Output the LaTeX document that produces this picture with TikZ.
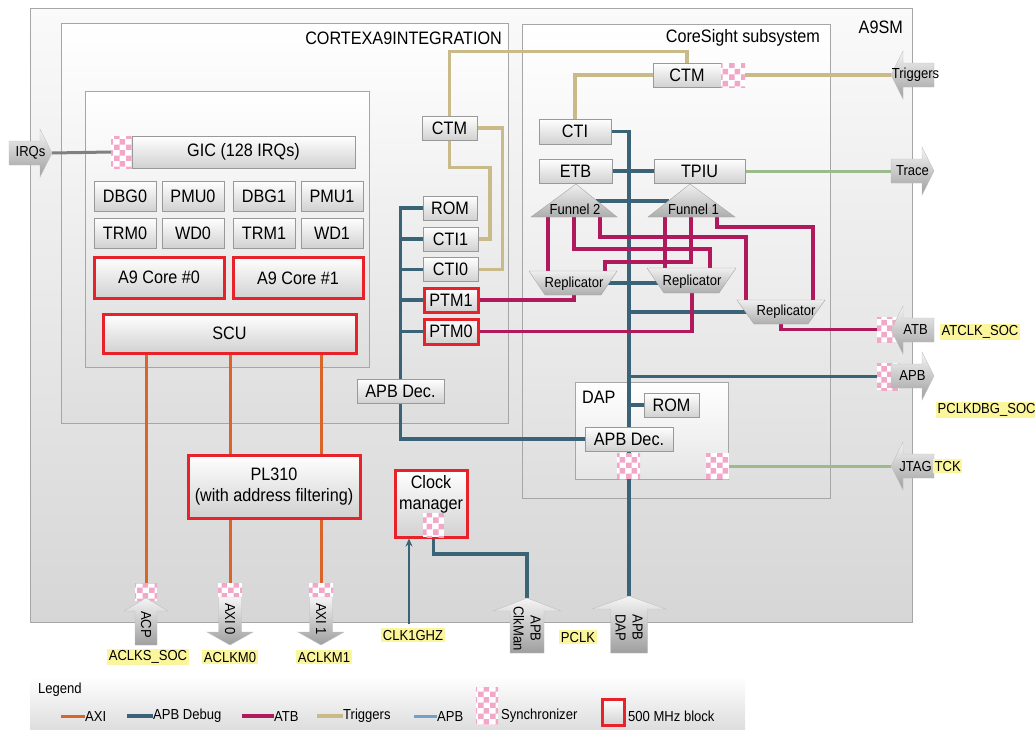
\documentclass[tikz,border=0pt]{standalone}
\usepackage{fontspec}
\setmainfont{Liberation Sans}[FakeStretch=0.9]
\usetikzlibrary{arrows.meta,positioning,calc,patterns}

\definecolor{axicol}{HTML}{D9652B}
\definecolor{apbdcol}{HTML}{3B6378}
\definecolor{atbcol}{HTML}{B0195B}
\definecolor{trigcol}{HTML}{C9BA8A}
\definecolor{apbcol}{HTML}{72A0C8}
\definecolor{tracecol}{HTML}{9DBA8C}
\definecolor{blockred}{HTML}{E8222A}
\definecolor{syncpink}{HTML}{F2A7C8}
\definecolor{sigyellow}{HTML}{FBF59C}

\pgfdeclarelayer{back}
\pgfdeclarelayer{wires}
\pgfsetlayers{back,wires,main}

\tikzset{
  bigfont/.style={font=\fontsize{18}{21}\selectfont},
  smallfont/.style={font=\fontsize{14.5}{17}\selectfont},
  title/.style={bigfont, inner sep=0pt},
  blk/.style={draw=black!40, line width=0.8pt, top color=white, bottom color=black!18,
    inner sep=0pt, align=center, bigfont},
  redblk/.style={blk, draw=blockred, line width=3pt},
  syncbox/.style={preaction={fill=white}, pattern=checkerboard, pattern color=syncpink, inner sep=0pt},
  container/.style={draw=black!35, line width=0.8pt, top color=white, bottom color=black!13},
  portshape/.style={draw=black!25, top color=black!4, bottom color=black!38},
  porttext/.style={smallfont, inner sep=0pt, align=center},
  cswedge/.style={draw=black!35, top color=black!6, bottom color=black!32},
  cslabel/.style={smallfont, inner sep=0pt},
  siglabel/.style={fill=sigyellow, inner sep=1.5pt, smallfont},
  axi/.style={draw=axicol, line width=3pt},
  apbd/.style={draw=apbdcol, line width=3.6pt},
  atb/.style={draw=atbcol, line width=3.2pt},
  trig/.style={draw=trigcol, line width=3.2pt},
  apb/.style={draw=apbcol, line width=3pt},
  trc/.style={draw=tracecol, line width=3pt},
}

% ports: name, tail/tip x, y, text
\newcommand{\portright}[5]{%
  \shade[portshape] (#2,#4-12) -- (#3-12,#4-12) -- (#3-12,#4-24) -- (#3,#4)
    -- (#3-12,#4+24) -- (#3-12,#4+12) -- (#2,#4+12) -- cycle;
  \coordinate (#1-tail) at (#2,#4);
  \coordinate (#1-tip) at (#3,#4);
  \node[porttext] (#1) at ({(#2+#3)/2},#4) {#5};}
\newcommand{\portleft}[5]{%
  \shade[portshape] (#2,#4) -- (#2+12,#4-24) -- (#2+12,#4-12) -- (#3,#4-12)
    -- (#3,#4+12) -- (#2+12,#4+12) -- (#2+12,#4+24) -- cycle;
  \coordinate (#1-tip) at (#2,#4);
  \coordinate (#1-tail) at (#3,#4);
  \node[porttext] (#1) at ({(#2+#3)/2+3},#4) {#5};}
% vertical ports: name, x, first y, second y, half width, text
\newcommand{\portup}[6]{%
  \shade[portshape] (#2,#3) -- (#2+2*#5,#3+13) -- (#2+#5,#3+13) -- (#2+#5,#4)
    -- (#2-#5,#4) -- (#2-#5,#3+13) -- (#2-2*#5,#3+13) -- cycle;
  \coordinate (#1-tip) at (#2,#3);
  \node[porttext, rotate=-90] (#1) at (#2,{(#3+#4)/2+3}) {#6};}
\newcommand{\portdown}[6]{%
  \shade[portshape] (#2,#4) -- (#2+2*#5,#4-13) -- (#2+#5,#4-13) -- (#2+#5,#3)
    -- (#2-#5,#3) -- (#2-#5,#4-13) -- (#2-2*#5,#4-13) -- cycle;
  \coordinate (#1-tail) at (#2,#3);
  \node[porttext, rotate=-90] (#1) at (#2,{(#3+#4)/2-2}) {#6};}

\begin{document}
\begin{tikzpicture}[x=1pt,y=-1pt]
	\useasboundingbox (0,0) rectangle (1035,729);
	
	% frames
	\begin{pgfonlayer}{back}
		\shade[container, top color=black!2, bottom color=black!16] (30,8) rectangle (912,622);
		\shade[container] (61,23) rectangle (508,423);
		\shade[container] (85,91) rectangle (369,367);
		\shade[container] (522,24) rectangle (830,498);
		\shade[container, bottom color=black!10] (575,382) rectangle (728,479);
		\shade[top color=white, bottom color=black!13] (30,676) rectangle (745,729);
	\end{pgfonlayer}
	
	\node[title, anchor=east] (a9sm) at (903,27) {A9SM};
	\node[title, anchor=east] (cortexlbl) at (502,38) {CORTEXA9INTEGRATION};
	\node[title, anchor=east] (cslbl) at (820,38) {CoreSight subsystem};
	\node[title, anchor=west] (daplbl) at (582,397) {DAP};
	
	% cluster
	\node[syncbox, minimum width=21pt, minimum height=32pt] (gicsync) at (121.5,152) {};
	\node[blk, minimum width=223pt, minimum height=32pt] (gic) at (243.5,152) {GIC (128 IRQs)};
	\node[blk, minimum width=62pt, minimum height=30pt] (dbg0) at (125,196) {DBG0};
	\node[blk, minimum width=62pt, minimum height=30pt] (pmu0) at (193,196) {PMU0};
	\node[blk, minimum width=62pt, minimum height=30pt] (dbg1) at (264,196) {DBG1};
	\node[blk, minimum width=62pt, minimum height=30pt] (pmu1) at (332,196) {PMU1};
	\node[blk, minimum width=62pt, minimum height=30pt] (trm0) at (125,233) {TRM0};
	\node[blk, minimum width=62pt, minimum height=30pt] (wd0) at (193,233) {WD0};
	\node[blk, minimum width=62pt, minimum height=30pt] (trm1) at (264,233) {TRM1};
	\node[blk, minimum width=62pt, minimum height=30pt] (wd1) at (332,233) {WD1};
	\node[redblk, minimum width=130pt, minimum height=41pt] (core0) at (159,277.5) {A9 Core \#0};
	\node[redblk, minimum width=130pt, minimum height=41pt] (core1) at (298,278) {A9 Core \#1};
	\node[redblk, minimum width=253pt, minimum height=39pt] (scu) at (229.5,333.5) {SCU};
	
	\node[redblk, minimum width=172pt, minimum height=63pt] (pl310) at (274,486.5) {PL310\\(with address filtering)};
	\node[redblk, minimum width=72pt, minimum height=67pt] (clkman) at (431,503.5) {};
	\node[title, align=center] (clktxt) at (431,494) {Clock\\manager};
	\node[syncbox, minimum width=21pt, minimum height=24pt] (csync) at (433.5,525) {};
	
	% debug blocks of the integration level
	\node[blk, minimum width=55pt, minimum height=24pt] (ctmA) at (449.5,128) {CTM};
	\node[blk, minimum width=54pt, minimum height=24pt] (rom) at (450,208) {ROM};
	\node[blk, minimum width=55pt, minimum height=24pt] (cti1) at (450.5,239) {CTI1};
	\node[blk, minimum width=55pt, minimum height=24pt] (cti0) at (450.5,269.5) {CTI0};
	\node[redblk, minimum width=54pt, minimum height=24pt] (ptm1) at (451,300) {PTM1};
	\node[redblk, minimum width=54pt, minimum height=25pt] (ptm0) at (451,331.5) {PTM0};
	\node[blk, minimum width=87pt, minimum height=24pt] (apbdec) at (400.5,391) {APB Dec.};
	
	% coresight
	\shade[cswedge] (531,217) -- (576,184) -- (617,217) -- cycle;
	\shade[cswedge] (648,217) -- (690,184) -- (735,217) -- cycle;
	\node[cslabel] (fun2) at (575,209) {Funnel 2};
	\node[cslabel] (fun1) at (693.5,209) {Funnel 1};
	\coordinate (f2-a) at (548,217);
	\coordinate (f2-b) at (574,217);
	\coordinate (f2-c) at (600,217);
	\coordinate (f1-a) at (665,217);
	\coordinate (f1-b) at (691,217);
	\coordinate (f1-c) at (717,217);
	\coordinate (f2-r) at (596,201);
	\coordinate (f1-l) at (669,201);
	
	\shade[cswedge] (529,271) -- (617,271) -- (601,295) -- (545,295) -- cycle;
	\shade[cswedge] (647,268) -- (736,268) -- (719,293) -- (664,293) -- cycle;
	\shade[cswedge] (737,300) -- (825,300) -- (808,324) -- (754,324) -- cycle;
	\node[cslabel] (rep1) at (574,284) {Replicator};
	\node[cslabel] (rep2) at (692,282) {Replicator};
	\node[cslabel] (rep3) at (786,312) {Replicator};
	\coordinate (rep1-in1) at (548,271);
	\coordinate (rep1-in2) at (605,271);
	\coordinate (rep1-b) at (574,295);
	\coordinate (rep1-r) at (606,283);
	\coordinate (rep2-in1) at (665,268);
	\coordinate (rep2-in2) at (710,268);
	\coordinate (rep2-b) at (692,293);
	\coordinate (rep2-l) at (658,283);
	\coordinate (rep3-in1) at (746,300);
	\coordinate (rep3-in2) at (813,300);
	\coordinate (rep3-b) at (781,324);
	\coordinate (rep3-l) at (749,312);
	
	\node[blk, minimum width=68pt, minimum height=24pt] (ctmB) at (687,75) {CTM};
	\node[syncbox, minimum width=24pt, minimum height=24pt] (ctmsync) at (733,75) {};
	\node[blk, minimum width=72pt, minimum height=25pt] (cti) at (575,131.5) {CTI};
	\node[blk, minimum width=73pt, minimum height=24pt] (etb) at (575.5,171) {ETB};
	\node[blk, minimum width=91pt, minimum height=24pt] (tpiu) at (699.5,171) {TPIU};
	
	\node[blk, minimum width=55pt, minimum height=24pt] (daprom) at (671.5,405) {ROM};
	\node[blk, minimum width=88pt, minimum height=24pt] (dapdec) at (629,439) {APB Dec.};
	\node[syncbox, minimum width=23pt, minimum height=26pt] (dsync1) at (628.5,466) {};
	\node[syncbox, minimum width=23pt, minimum height=26pt] (dsync2) at (717.5,466) {};
	
	% synchronizers at the edge
	\node[syncbox, minimum width=22pt, minimum height=25pt] (atbsync) at (888,329.5) {};
	\node[syncbox, minimum width=22pt, minimum height=27pt] (apbsync) at (888,376.5) {};
	\node[syncbox, minimum width=22pt, minimum height=17pt] (acpsync) at (146,592) {};
	\node[syncbox, minimum width=24pt, minimum height=14pt] (axi0sync) at (230,590) {};
	\node[syncbox, minimum width=24pt, minimum height=14pt] (axi1sync) at (321,590) {};
	
	% ports
	\portright{irqs}{9}{52}{153}{IRQs}
	\portleft{trigp}{891}{934}{75}{Triggers}
	\portright{trace}{891}{934}{171}{Trace}
	\portleft{atbp}{891}{934}{330}{ATB}
	\portright{apbp}{891}{934}{376}{APB}
	\portleft{jtag}{891}{934}{466}{JTAG}
	\portup{acp}{146}{598}{645}{11}{ACP}
	\portdown{axi0}{230}{597}{645}{11.5}{AXI 0}
	\portdown{axi1}{321}{597}{645}{11.5}{AXI 1}
	\portup{clkp}{527}{598}{653}{17}{APB\\ClkMan}
	\portup{dapp}{629}{596}{653}{18.5}{APB\\DAP}
	
	% clock names
	\node[siglabel] (aclks) at (148,657) {ACLKS\_SOC};
	\node[siglabel] (aclkm0) at (230,657) {ACLKM0};
	\node[siglabel] (aclkm1) at (324,657) {ACLKM1};
	\node[siglabel] (clk1ghz) at (413,635) {CLK1GHZ};
	\node[siglabel] (pclk) at (578,637) {PCLK};
	\node[siglabel] (atclk) at (980,332) {ATCLK\_SOC};
	\node[siglabel, anchor=west] (pclkdbg) at (936,410) {PCLKDBG\_SOC};
	\node[siglabel, anchor=west] (tck) at (933,466) {TCK};
	\coordinate (clkin) at (409,624);
	
	% wiring
	\begin{pgfonlayer}{wires}
		\draw[axi] (scu.south -| acpsync) -- (acpsync.north);
		\draw[axi] (scu.south -| axi0sync) -- (pl310.north -| axi0sync);
		\draw[axi] (scu.south -| axi1sync) -- (pl310.north -| axi1sync);
		\draw[axi] (pl310.south -| axi0sync) -- (axi0sync.north);
		\draw[axi] (pl310.south -| axi1sync) -- (axi1sync.north);
		
		\draw[black!50, line width=3pt] (irqs-tip) -- (gicsync.west);
		
		\draw[apbd] (rom.west) -- (rom.west -| apbdec) -- (apbdec.center |- dapdec.west) -- (dapdec.west);
		\foreach \n in {cti1,cti0,ptm1,ptm0}
			\draw[apbd] (\n.west) -- (\n.west -| apbdec);
		\draw[apbd] (cti.east) -| (dapp-tip);
		\draw[apbd] (etb.east) -- (tpiu.west);
		\draw[apbd] (f2-r) -- (f1-l);
		\draw[apbd] (rep1-r) -- (rep2-l);
		\draw[apbd] (rep3-l -| dapp-tip) -- (rep3-l);
		\draw[apbd] (apbsync.west -| dapp-tip) -- (apbsync.west);
		\draw[apbd] (daprom.west -| dapp-tip) -- (daprom.west);
		\draw[apbd] (csync.south) -- ++(0,17) -| (clkp-tip);
		
		\draw[atb] (ptm1.east) -| (rep1-b);
		\draw[atb] (ptm0.east) -| (rep2-b);
		\draw[atb] (f2-a) -- (rep1-in1);
		\draw[atb] (f2-b) -- ++(0,32) -| (rep2-in2);
		\draw[atb] (f2-c) -- ++(0,20) -| (rep3-in1);
		\draw[atb] (f1-a) -- (rep2-in1);
		\draw[atb] (f1-b) -- ++(0,45) -| (rep1-in2);
		\draw[atb] (f1-c) -- ++(0,10) -| (rep3-in2);
		\draw[atb] (rep3-b) |- (atbsync.west);
		
		\draw[trig] (ctmB.north) -- ++(0,-11) -| (ctmA.north);
		\draw[trig] (ctmA.east) -- ++(25,0) |- (cti0.east);
		\draw[trig] (ctmA.south) -- ++(0,27) -- ++(40.5,0) |- (cti1.east);
		\draw[trig] (ctmB.west) -| (cti.north);
		\draw[trig] (ctmsync.east) -- (trigp-tip);
		
		\draw[trc] (tpiu.east) -- (trace-tail);
		\draw[trc] (dsync2.east) -- (jtag-tip);
	\end{pgfonlayer}
	\draw[apbdcol, line width=1.6pt, -{Stealth[length=8pt,width=7pt]}] (clkin) -- (clkin |- clkman.south);
	
	% legend
	\node[smallfont, anchor=west, inner sep=0pt] (lgtitle) at (38,690) {Legend};
	\node[smallfont, anchor=west, inner sep=0pt] (lg-axi) at (85,716) {AXI};
	\node[smallfont, anchor=west, inner sep=0pt] (lg-apbd) at (153,716) {APB Debug};
	\node[smallfont, anchor=west, inner sep=0pt] (lg-atb) at (274,716) {ATB};
	\node[smallfont, anchor=west, inner sep=0pt] (lg-trig) at (343,716) {Triggers};
	\node[smallfont, anchor=west, inner sep=0pt] (lg-apb) at (437,716) {APB};
	\draw[axi] (lg-axi.west) -- ++(-24,0);
	\draw[apbd] (lg-apbd.west) -- ++(-26,0);
	\draw[atb] (lg-atb.west) -- ++(-32,0);
	\draw[trig] (lg-trig.west) -- ++(-26,0);
	\draw[apb] (lg-apb.west) -- ++(-23,0);
	\node[syncbox, minimum width=22pt, minimum height=37pt] (lg-sync) at (487,706) {};
	\node[smallfont, anchor=west, inner sep=0pt] (lg-synctxt) at (501,716) {Synchronizer};
	\node[redblk, minimum width=22pt, minimum height=26pt] (lg-red) at (613,712.5) {};
	\node[smallfont, anchor=west, inner sep=0pt] (lg-redtxt) at (628,716) {500 MHz block};
\end{tikzpicture}
\end{document}
